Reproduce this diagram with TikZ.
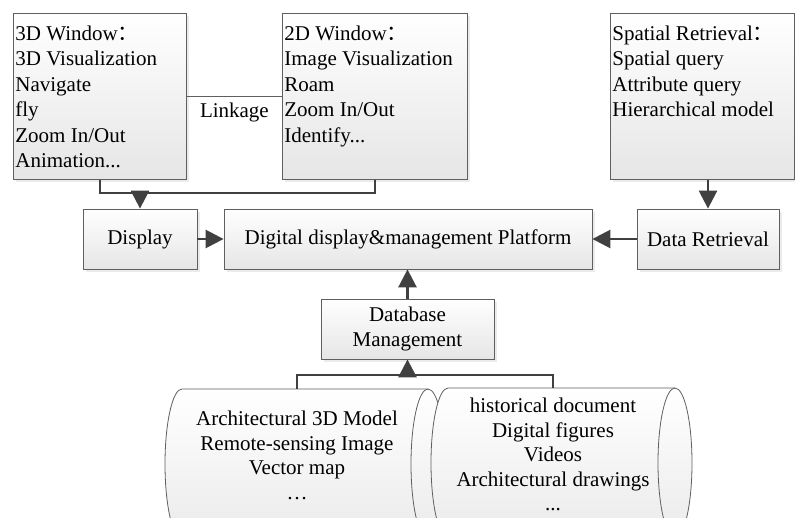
\documentclass[tikz,border=0pt]{standalone}
\usepackage{fontspec}
\setmainfont{Liberation Serif}
\newfontfamily\cjk{Noto Sans CJK SC}
\usepackage{tikz}
\usetikzlibrary{arrows.meta,positioning,shadows}

\definecolor{boxline}{HTML}{5F5F5F}
\definecolor{linkgray}{HTML}{404040}

\newcommand{\winlines}[2]{\parbox[c][166pt][t]{#1}{\raggedright\rule{0pt}{27pt}#2}}

\tikzset{
  box/.style={draw=boxline, line width=0.8pt, top color=white, bottom color=black!10,
    drop shadow={shadow xshift=3pt, shadow yshift=-3pt, fill=black!15}},
  winbox/.style={box, anchor=north west, inner xsep=2pt, inner ysep=0pt},
  smallbox/.style={box, minimum height=60pt, align=center},
  storage/.style={draw=boxline, line width=0.8pt, top color=white, bottom color=black!8},
  conn/.style={draw=linkgray, line width=2.6pt},
  arrow/.style={conn, -{Triangle[length=18pt,width=18pt]}},
  datatext/.style={anchor=north, align=center, inner sep=0pt, font=\fontsize{21}{24.5}\selectfont}
}

\begin{document}
\begin{tikzpicture}[x=1pt, y=-1pt, font=\fontsize{21}{25.5}\selectfont]
    \path[use as bounding box, fill=white] (0,0) rectangle (795,518);
    \clip (0,0) rectangle (795,518);

    \node[winbox] (win3d) at (13,13) {\winlines{169pt}{3D Window{\cjk ：}\\3D Visualization\\Navigate\\fly\\Zoom In/Out\\Animation...}};
    \node[winbox] (win2d) at (282,13) {\winlines{181pt}{2D Window{\cjk ：}\\Image Visualization\\Roam\\Zoom In/Out\\Identify...}};
    \node[winbox] (spatial) at (610,13) {\winlines{180pt}{Spatial Retrieval{\cjk ：}\\Spatial query\\Attribute query\\Hierarchical model}};

    \node[smallbox, minimum width=114pt] (display) at (140,239) {Display};
    \node[smallbox, minimum width=368pt] (platform) at (408,239) {Digital display\&management Platform};
    \node[smallbox, minimum width=142pt] (dataret) at (708,239) {Data Retrieval};
    \node[smallbox, minimum width=173pt] (dbm) at (407.5,329) {Database\\Management};

    % storage cylinders
    \path[storage] (182,389) -- (428,389) arc[start angle=90, end angle=-90, x radius=17pt, y radius=75pt]
        -- (182,539) arc[start angle=270, end angle=90, x radius=17pt, y radius=75pt] -- cycle;
    \draw[boxline, line width=0.8pt] (428,389) arc[start angle=90, end angle=270, x radius=17pt, y radius=75pt];
    \path[storage] (448,388) -- (675,388) arc[start angle=90, end angle=-90, x radius=17pt, y radius=75pt]
        -- (448,538) arc[start angle=270, end angle=90, x radius=17pt, y radius=75pt] -- cycle;
    \draw[boxline, line width=0.8pt] (675,388) arc[start angle=90, end angle=270, x radius=17pt, y radius=75pt];

    \node[datatext] (data3d) at (297,411) {Architectural 3D Model\\Remote-sensing Image\\Vector map\\…};
    \node[datatext] (datadoc) at (553,398) {historical document\\Digital figures\\Videos\\Architectural drawings\\...};

    \coordinate (topjunc) at (0,193);
    \coordinate (botjunc) at (0,375);
    \coordinate (cyl3d) at (297,389);
    \coordinate (cyldoc) at (553,388);

    \draw[boxline, line width=0.8pt] (win3d.east) -- node[below=3pt, text=black] (linklbl) {Linkage} (win2d.west);

    \draw[conn] (win3d.south) |- (topjunc -| win2d.south) -- (win2d.south);
    \draw[arrow] (topjunc -| display.north) -- (display.north);
    \draw[arrow] (display.east) -- (platform.west);
    \draw[arrow] (dataret.west) -- (platform.east);
    \draw[arrow] (spatial.south -| dataret.north) -- (dataret.north);
    \draw[arrow] (dbm.north) -- (dbm.north |- platform.south);
    \draw[conn] (cyl3d) |- (botjunc -| cyldoc) -- (cyldoc);
    \draw[arrow] (botjunc -| dbm.south) -- (dbm.south);
\end{tikzpicture}
\end{document}
